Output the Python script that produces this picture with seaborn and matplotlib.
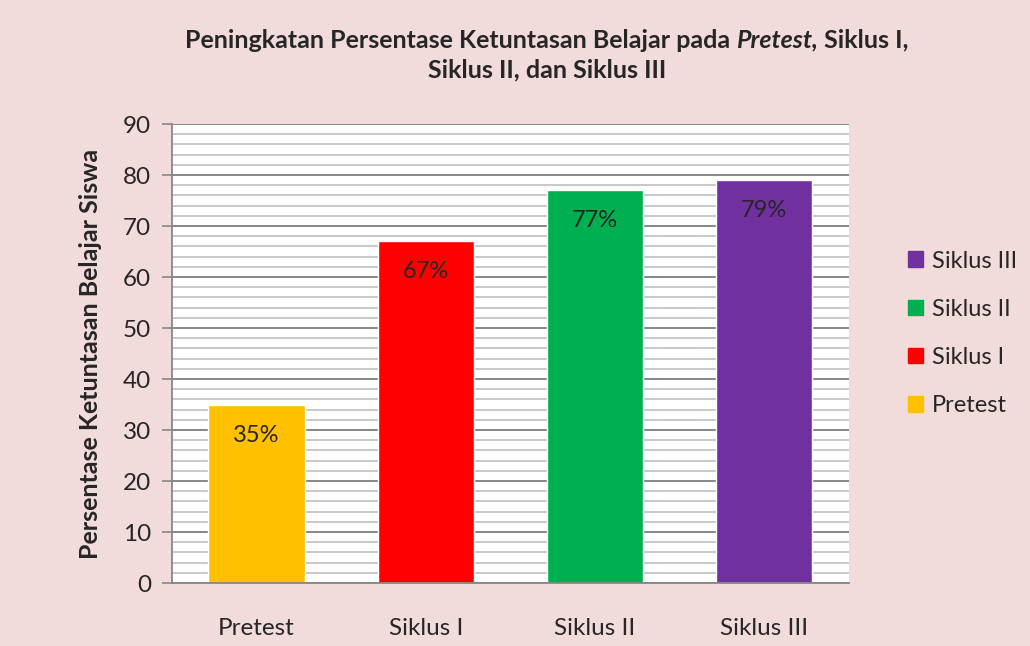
import pandas as pd
import numpy as np
import matplotlib.pyplot as plt
import seaborn as sns
from matplotlib.patches import Patch
from matplotlib.ticker import MultipleLocator

# data
kategori = ['Pretest', 'Siklus I', 'Siklus II', 'Siklus III']
persen = [35, 67, 77, 79]
warna = ['#FFC000', '#FF0000', '#00B050', '#7030A0']

bg = '#F2DCDB'
font = 'Lato'

sns.set_style('white')
plt.rcParams['font.family'] = [font, 'DejaVu Sans']

df = pd.DataFrame({'kategori': kategori, 'persen': persen})

fig = plt.figure(figsize=(10.3, 6.46), dpi=100, facecolor=bg)
ax = fig.add_axes([0.167, 0.0975, 0.657, 0.7105])
ax.set_facecolor('white')

sns.barplot(data=df, x='kategori', y='persen', hue='kategori',
            palette=warna, order=kategori, hue_order=kategori,
            width=0.57, dodge=False, legend=False, ax=ax, saturation=1)

# gridlines: minor every 2, major every 10
ax.set_ylim(0, 90)
ax.yaxis.set_major_locator(MultipleLocator(10))
ax.yaxis.set_minor_locator(MultipleLocator(2))
ax.grid(which='minor', axis='y', color='#BFBFBF', lw=1.2)
ax.grid(which='major', axis='y', color='#868686', lw=1.4)
ax.set_axisbelow(True)
ax.tick_params(axis='y', which='major', left=True, length=7, width=1.2,
               color='#868686', labelsize=17.5, pad=8)
ax.tick_params(axis='y', which='minor', left=False)
ax.tick_params(axis='x', bottom=False, labelsize=17.5, pad=22)
for s in ['top', 'right']:
    ax.spines[s].set_visible(False)
for s in ['left', 'bottom']:
    ax.spines[s].set_color('#868686')
    ax.spines[s].set_linewidth(1.3)

ax.set_xlabel('')
ax.set_ylabel('Persentase Ketuntasan Belajar Siswa', fontsize=18,
              fontweight='bold', labelpad=15)

# labels inside bars
for i, v in enumerate(persen):
    ax.text(i, v - 6, f'{v}%', ha='center', va='center', fontsize=17)

# legend, reversed order
handles = [Patch(color=c, label=k) for k, c in zip(kategori, warna)][::-1]
fig.legend(handles=handles, loc='center left', bbox_to_anchor=(0.870, 0.484),
           frameon=False, fontsize=17, handlelength=0.65, handleheight=0.65,
           handletextpad=0.35, labelspacing=1.15, borderpad=0)

# title with italic "Pretest,"
renderer = fig.canvas.get_renderer()
parts = [('Peningkatan Persentase Ketuntasan Belajar pada ', 'normal'),
         ('Pretest,', 'italic'),
         (' Siklus I,', 'normal')]
texts = []
for s, st in parts:
    t = fig.text(0, 0, s, fontsize=18, fontweight='bold', style=st,
                 va='center', ha='left')
    texts.append(t)
widths = [t.get_window_extent(renderer).width for t in texts]
x = 547 - sum(widths) / 2
for t, w in zip(texts, widths):
    t.set_position((x / 1030, 1 - 40 / 646))
    x += w
fig.text(547 / 1030, 1 - 70 / 646, 'Siklus II, dan Siklus III', fontsize=18,
         fontweight='bold', ha='center', va='center')

fig.savefig('out.png', dpi=100, facecolor=bg)
